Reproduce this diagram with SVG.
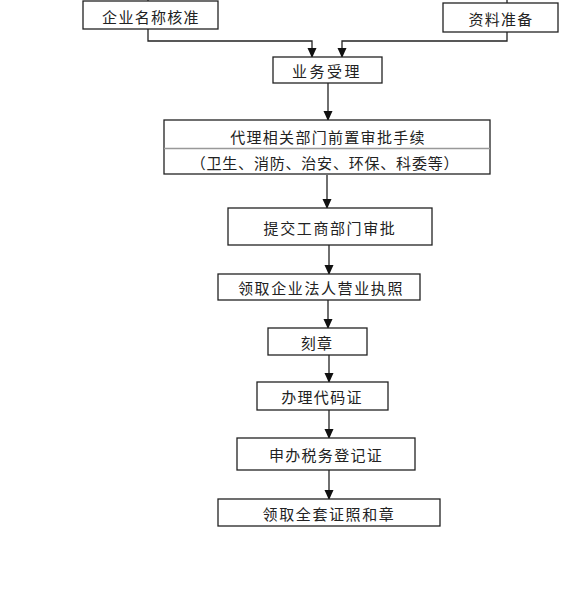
<svg xmlns="http://www.w3.org/2000/svg" width="565" height="591" viewBox="0 0 565 591">
<defs>
<marker id="ah" markerUnits="userSpaceOnUse" markerWidth="10" markerHeight="11" refX="9" refY="5" orient="auto" viewBox="0 0 10 10">
<path d="M0,0.5 L10,5 L0,9.5 Z" fill="#111"/>
</marker>
<style>
.b{fill:#fff;stroke:#222;stroke-width:1.3}
.t{font-family:"Noto Sans CJK SC","Noto Sans CJK JP",sans-serif;font-size:15px;fill:#222;text-anchor:middle;dominant-baseline:central;letter-spacing:1.3px}
.c{fill:none;stroke:#222;stroke-width:1.3}
.a{marker-end:url(#ah)}
</style>
</defs>
<rect width="565" height="591" fill="#fff"/>
<g id="connectors">
<line class="c" x1="148" y1="0" x2="148" y2="1"/>
<line class="c" x1="507" y1="0" x2="507" y2="3"/>
<polyline class="c a" points="148,29 148,41 312,41 312,57"/>
<polyline class="c a" points="507,32 507,41 342,41 342,57"/>
<line class="c a" x1="328" y1="83" x2="328" y2="120"/>
<line class="c a" x1="327" y1="175" x2="327" y2="208"/>
<line class="c a" x1="329" y1="245" x2="329" y2="274"/>
<line class="c a" x1="328" y1="300" x2="328" y2="328"/>
<line class="c a" x1="329" y1="355" x2="329" y2="382"/>
<line class="c a" x1="329" y1="410" x2="329" y2="438"/>
<line class="c a" x1="329" y1="470" x2="329" y2="499"/>
</g>
<g id="n1"><rect class="b" x="83" y="1" width="135" height="28"/><text class="t" x="151" y="16">企业名称核准</text></g>
<g id="n2"><rect class="b" x="443" y="3" width="115" height="29"/><text class="t" x="501" y="18">资料准备</text></g>
<g id="n3"><rect class="b" x="273" y="57" width="109" height="26"/><text class="t" x="327" y="70" style="letter-spacing:2.5px">业务受理</text></g>
<g id="n4"><rect class="b" x="164" y="120" width="326" height="54"/><line class="c" x1="164" y1="148.5" x2="490" y2="148.5" style="stroke:#999"/><text class="t" x="328" y="136">代理相关部门前置审批手续</text><text class="t" x="325" y="162" style="letter-spacing:0.8px">（卫生、消防、治安、环保、科委等）</text></g>
<g id="n5"><rect class="b" x="228" y="208" width="204" height="37"/><text class="t" x="330" y="227" style="letter-spacing:1.6px">提交工商部门审批</text></g>
<g id="n6"><rect class="b" x="218" y="274" width="202" height="26"/><text class="t" x="321" y="287" style="letter-spacing:1.6px">领取企业法人营业执照</text></g>
<g id="n7"><rect class="b" x="268" y="328" width="99" height="27"/><text class="t" x="317" y="342">刻章</text></g>
<g id="n8"><rect class="b" x="257" y="382" width="131" height="28"/><text class="t" x="322" y="396">办理代码证</text></g>
<g id="n9"><rect class="b" x="237" y="438" width="178" height="32"/><text class="t" x="326" y="454">申办税务登记证</text></g>
<g id="n10"><rect class="b" x="218" y="499" width="222" height="27"/><text class="t" x="329" y="513" style="letter-spacing:1.6px">领取全套证照和章</text></g>
</svg>
